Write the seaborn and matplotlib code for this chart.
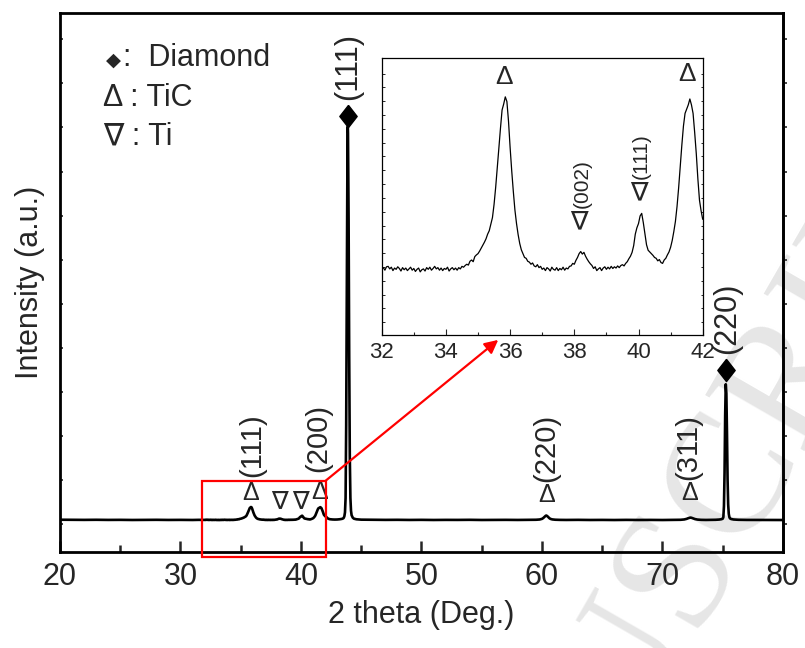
import numpy as np
import pandas as pd
import matplotlib
matplotlib.use("Agg")
import matplotlib.pyplot as plt
import seaborn as sns
from matplotlib.ticker import MultipleLocator, FixedLocator
from matplotlib.patches import Rectangle

# ---------------- data ----------------
main_left_x = [20.0, 21.0, 22.0, 23.0, 24.0, 25.0, 26.0, 27.0, 28.0, 29.0, 30.0, 31.0, 31.5, 31.9]
main_left_y = [101.8, 101.5, 101.3, 101.6, 101.2, 101.4, 101.0, 101.3, 101.5, 101.1, 101.3, 101.0, 101.4, 101.2]

# zoomed region 32-42 deg, step 0.05 deg
inset_y = [
    101.2, 101.6, 101.0, 101.8, 101.9, 101.3, 101.7, 100.9, 101.5, 101.2,
    101.8, 101.4, 100.8, 101.6, 101.1, 101.5, 100.9, 101.3, 101.7, 101.0,
    101.4, 100.7, 101.2, 101.5, 100.6, 101.1, 101.3, 100.8, 101.6, 101.2,
    101.7, 101.0, 101.4, 101.9, 101.3, 101.6, 101.0, 101.5, 100.9, 101.4,
    101.2, 101.7, 100.8, 101.3, 101.6, 101.1, 101.5, 101.0, 101.6, 101.3,
    101.9, 101.7, 102.1, 102.4, 102.2, 103.1, 103.4, 103.0, 104.2, 104.6,
    104.9, 105.5, 106.2, 106.9, 107.6, 108.4, 109.5, 110.3, 111.8, 113.4,
    116.5, 120.5, 125.0, 129.8, 134.5, 138.8, 140.2, 141.9, 140.8, 136.2,
    130.0, 124.5, 119.6, 115.2, 112.0, 109.4, 107.3, 105.8, 104.9, 104.0,
    103.8, 103.1, 102.9, 102.4, 102.7, 102.0, 101.8, 102.3, 101.6, 101.9,
    101.2, 101.5, 100.9, 101.6, 101.3, 100.8, 101.7, 101.2, 101.0, 101.6,
    100.9, 101.4, 101.1, 101.7, 101.0, 101.5, 101.3, 101.9, 102.0, 102.6,
    102.4, 103.3, 104.0, 104.9, 105.4, 104.8, 105.2, 104.3, 103.6, 103.0,
    102.5, 102.1, 101.4, 101.8, 100.9, 101.3, 101.6, 100.9, 101.5, 101.8,
    101.2, 101.7, 101.3, 101.9, 101.4, 101.8, 101.5, 102.0, 101.6, 102.1,
    102.3, 102.0, 102.6, 103.0, 103.7, 104.3, 105.2, 106.8, 109.5, 111.0,
    112.0, 113.8, 114.4, 112.2, 109.6, 107.0, 105.7, 105.3, 104.9, 104.5,
    104.0, 103.8, 103.2, 103.5, 102.8, 102.6, 103.4, 103.8, 104.6, 105.3,
    106.4, 108.0, 110.1, 112.5, 116.0, 120.4, 125.5, 130.5, 135.0, 138.0,
    139.0, 140.0, 141.4, 140.0, 138.0, 133.5, 128.5, 122.5, 117.5, 115.0,
    113.0,
]
inset_x = list(np.round(32.0 + 0.05 * np.arange(len(inset_y)), 2))

main_right_x = [
    42.1, 42.2, 42.3, 42.4, 42.6, 42.8, 43.0, 43.2, 43.4, 43.5,
    43.55, 43.6, 43.65, 43.7, 43.75, 43.8, 43.85, 43.88, 43.9, 43.95,
    44.0, 44.05, 44.1, 44.15, 44.2, 44.3, 44.4, 44.6, 44.8, 45.0,
    46, 47, 48, 49, 50, 51, 52, 53, 54, 55,
    56, 57, 58, 59, 59.5, 59.8, 60.0, 60.1, 60.2, 60.3,
    60.35, 60.4, 60.5, 60.6, 60.7, 60.85, 61.1, 61.5, 62, 63,
    64, 65, 66, 67, 68, 69, 70, 71, 71.5, 71.8,
    72.0, 72.15, 72.3, 72.4, 72.55, 72.7, 72.9, 73.2, 73.6, 74.0,
    74.4, 74.7, 74.9, 75.0, 75.05, 75.1, 75.15, 75.2, 75.25, 75.3,
    75.35, 75.4, 75.45, 75.5, 75.55, 75.6, 75.7, 75.9, 76.3, 77,
    78, 79, 80,
]
main_right_y = [
    110.5, 106.5, 104.5, 103.4, 102.6, 102.3, 102.5, 103.2, 104.5, 106.0,
    108, 113, 125, 170, 400, 800, 1220, 1342, 1320, 1050,
    620, 300, 170, 130, 116, 108, 105, 103.2, 102.5, 102.0,
    101.6, 101.3, 101.5, 101.1, 101.4, 101.0, 101.3, 101.2, 101.5, 101.0,
    101.3, 101.4, 101.1, 101.5, 101.7, 102.5, 104.5, 107.0, 110.5, 114.0,
    115.0, 114.2, 111.0, 107.0, 104.5, 102.8, 101.8, 101.3, 101.1, 101.4,
    101.0, 101.2, 100.9, 101.3, 101.0, 101.2, 100.9, 101.3, 101.6, 102.6,
    104.5, 106.8, 108.5, 108.0, 105.8, 103.8, 102.3, 101.4, 101.1, 101.3,
    101.6, 102.3, 103.5, 105.0, 110.0, 145.0, 250.0, 430.0, 529.0, 500.0,
    380, 230, 150, 120, 110, 106, 104, 102.5, 101.6, 101.2,
    101.0, 101.1, 100.9,
]

legend_rows = [":  Diamond", "\u0394 : TiC", "\u2207 : Ti"]
x_ticks_main = [20, 30, 40, 50, 60, 70, 80]
x_ticks_inset = [32, 34, 36, 38, 40, 42]

# ---------------- style ----------------
sns.set_style("ticks")
FAM = ["Liberation Sans", "DejaVu Sans"]
plt.rcParams["font.family"] = FAM
plt.rcParams["axes.unicode_minus"] = False

fig = plt.figure(figsize=(8.05, 6.48), dpi=100)

# watermark (behind everything)
fig.text(0.835, 0.09, "MANUSCRIPT", rotation=60, rotation_mode="anchor",
         ha="center", va="center", fontsize=125, family="Liberation Serif",
         color="#e6e6e6", zorder=-10)

ax = fig.add_axes([0.07453, 0.14815, 0.89814, 0.83179])
ax.set_facecolor("none")

main_df = pd.DataFrame({
    "two_theta": main_left_x + inset_x + main_right_x,
    "intensity": main_left_y + inset_y + main_right_y,
})
sns.lineplot(data=main_df, x="two_theta", y="intensity", ax=ax, color="black",
             linewidth=1.9, estimator=None, sort=False)
ax.set_xlim(20, 80)
ax.set_ylim(0, 1700)
ax.set_xlabel("2 theta (Deg.)", fontsize=22, labelpad=6)
ax.set_ylabel("Intensity (a.u.)", fontsize=22, labelpad=11)

for s in ax.spines.values():
    s.set_linewidth(2.0)
    s.set_color("black")

ax.xaxis.set_major_locator(FixedLocator(x_ticks_main))
ax.xaxis.set_minor_locator(MultipleLocator(5))
ax.tick_params(axis="x", which="major", direction="in", length=8, width=1.8,
               labelsize=22, pad=7, top=False)
ax.tick_params(axis="x", which="minor", direction="in", length=5, width=1.8, top=False)
yt = list(np.arange(88, 1700, 139))
ax.set_yticks(yt)
ax.tick_params(axis="y", which="major", direction="in", length=2.5, width=1.2,
               labelleft=False, right=False)
ax.yaxis.set_minor_locator(FixedLocator([]))
sec = ax.secondary_yaxis("right")
sec.set_yticks(yt)
sec.tick_params(direction="out", length=3, width=1.2, labelright=False)
sec.spines["right"].set_linewidth(2.0)

# peak markers, main plot
diamond = [(0, 1), (0.78, 0), (0, -1), (-0.78, 0), (0, 1)]
ax.plot([43.88, 75.27], [1375, 575], linestyle="none", marker=diamond,
        markersize=16, color="black")
ax.text(43.88, 1426, "(111)", rotation=90, ha="center", va="bottom", fontsize=22)
ax.text(75.33, 625, "(220)", rotation=90, ha="center", va="bottom", fontsize=22)

tic_pos = [(35.85, 186), (41.58, 189), (60.35, 180), (72.28, 186)]
for (x, y) in tic_pos:
    ax.text(x, y, "\u0394", ha="center", va="center", fontsize=18, family=FAM)
for (x, y) in [(38.2, 161), (39.92, 161)]:
    ax.text(x, y, "\u2207", ha="center", va="center", fontsize=18, family=FAM)
for (x, y, s) in [(35.93, 237, "(111)"), (41.4, 252, "(200)"),
                  (60.33, 221, "(220)"), (72.12, 227, "(311)")]:
    ax.text(x, y, s, rotation=90, ha="center", va="bottom", fontsize=21)

# legend-like text
ax.text(0.0733, 0.912, "\u25c6", transform=ax.transAxes, ha="center", va="center",
        fontsize=14, family=["DejaVu Sans"])
ax.text(0.0875, 0.916, legend_rows[0], transform=ax.transAxes, ha="left", va="center",
        fontsize=22, family=FAM)
ax.text(0.0595, 0.843, legend_rows[1], transform=ax.transAxes, ha="left", va="center",
        fontsize=22, family=FAM)
ax.text(0.0595, 0.770, legend_rows[2], transform=ax.transAxes, ha="left", va="center",
        fontsize=22, family=FAM)

# red zoom box and arrow
ax.add_patch(Rectangle((31.76, -16), 42.05 - 31.76, 225 + 16, fill=False,
                       edgecolor="red", linewidth=1.6, clip_on=False, zorder=5))
ax.annotate("", xy=(56.37, 669), xytext=(42.05, 225),
            arrowprops=dict(arrowstyle="-|>", color="red", lw=1.6,
                            mutation_scale=20, shrinkA=0, shrinkB=0), zorder=5)

# ---------------- inset ----------------
axin = fig.add_axes([0.47416, 0.48302, 0.39876, 0.42701])
inset_df = pd.DataFrame({"two_theta": inset_x, "intensity": inset_y})
sns.lineplot(data=inset_df, x="two_theta", y="intensity", ax=axin, color="black",
             linewidth=0.9, estimator=None, sort=False)
axin.set_xlim(32, 42)
axin.set_ylim(85.7, 151.0)
axin.set_xlabel("")
axin.set_ylabel("")
for s in axin.spines.values():
    s.set_linewidth(0.9)
    s.set_color("black")
axin.xaxis.set_major_locator(FixedLocator(x_ticks_inset))
axin.xaxis.set_minor_locator(MultipleLocator(1))
axin.tick_params(axis="x", which="major", direction="in", length=4.5, width=0.8,
                 labelsize=16, pad=5, top=False)
axin.tick_params(axis="x", which="minor", direction="in", length=2.5, width=0.8, top=False)
axin.set_yticks(list(np.arange(147.4, 85.7, -3.26)))
axin.tick_params(axis="y", which="major", direction="in", length=1.8, width=0.7,
                 labelleft=False, left=True, right=True)

axin.text(35.8, 146.5, "\u0394", ha="center", va="center", fontsize=19, family=FAM)
axin.text(41.5, 147.4, "\u0394", ha="center", va="center", fontsize=19, family=FAM)
axin.text(38.15, 112.3, "\u2207", ha="center", va="center", fontsize=19, family=FAM)
axin.text(40.02, 119.0, "\u2207", ha="center", va="center", fontsize=19, family=FAM)
axin.text(38.26, 115.6, "(002)", rotation=90, ha="center", va="bottom", fontsize=15)
axin.text(40.09, 122.4, "(111)", rotation=90, ha="center", va="bottom", fontsize=15)

fig.savefig("out.png", dpi=100)
